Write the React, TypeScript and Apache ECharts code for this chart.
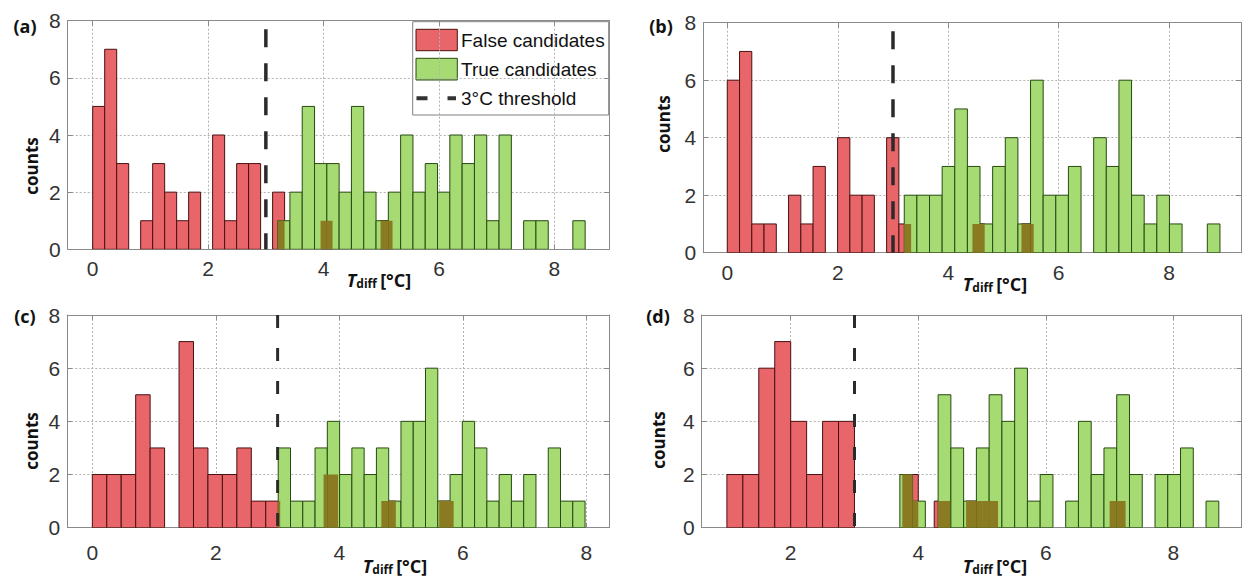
import React, { useEffect, useRef } from "react";
import * as echarts from "echarts";

// ---------- data (histogram counts per bin) ----------
// panel (a)
const redStartA = 0;
const redWidthA = 0.2078;
const redCountsA = [5, 7, 3, 0, 1, 3, 2, 1, 2, 0, 4, 1, 3, 3, 0, 2, 0, 0, 0, 1, 0, 0, 0, 0, 1];
const greenStartA = 3.204;
const greenWidthA = 0.2131;
const greenCountsA = [1, 2, 5, 3, 3, 2, 5, 2, 1, 2, 4, 2, 3, 2, 4, 3, 4, 1, 4, 0, 1, 1, 0, 0, 1];

// panel (b)
const redStartB = 0;
const redWidthB = 0.2219;
const redCountsB = [6, 7, 1, 1, 0, 2, 1, 3, 0, 4, 2, 2, 0, 4, 1, 0, 0, 0, 0, 0, 1, 0, 0, 0, 1];
const greenStartB = 3.204;
const greenWidthB = 0.2286;
const greenCountsB = [2, 2, 2, 3, 5, 3, 1, 3, 4, 1, 6, 2, 2, 3, 0, 4, 3, 6, 2, 1, 2, 1, 0, 0, 1];

// panel (c)
const redStartC = 0;
const redWidthC = 0.234;
const redCountsC = [2, 2, 2, 5, 3, 0, 7, 3, 2, 2, 3, 1, 1, 0, 0, 0, 2, 0, 0, 0, 1, 0, 0, 0, 1];
const greenStartC = 3.01;
const greenWidthC = 0.1987;
const greenCountsC = [3, 1, 1, 3, 4, 2, 3, 2, 3, 1, 4, 4, 6, 1, 2, 4, 3, 1, 2, 1, 2, 0, 3, 1, 1];

// panel (d)
const redStartD = 1.0;
const redWidthD = 0.25;
const redCountsD = [2, 2, 6, 7, 4, 2, 4, 4, 0, 0, 0, 2, 0, 1, 0, 1, 1, 0, 0, 0, 0, 0, 0, 0, 1];
const greenStartD = 3.711;
const greenWidthD = 0.2;
const greenCountsD = [2, 1, 0, 5, 3, 1, 3, 5, 4, 6, 1, 2, 0, 1, 4, 2, 3, 5, 2, 0, 2, 2, 3, 0, 1];

const threshold = 3;
const yTicks = [0, 2, 4, 6, 8];
const panelLabels = ["(a)", "(b)", "(c)", "(d)"];
const legendNames = ["False candidates", "True candidates", "3°C threshold"];

// ---------- styles ----------
const RED = "#e8666a";
const RED_STROKE = "#4a1010";
const GREEN = "#a5db72";
const GREEN_STROKE = "#274a10";
const OLIVE = "#8a7a22";
const GRID_COLOR = "#b3b3b3";
const AXIS_COLOR = "#8a8a8a";
const TICK_FONT = "Liberation Sans";
const BOLD_FONT = "Open Sans";

type Bin = [number, number, number];

function makeBins(start: number, width: number, counts: number[]): Bin[] {
  return counts
    .map((c, i) => [start + i * width, start + (i + 1) * width, c] as Bin)
    .filter((d) => d[2] > 0);
}

function overlapBins(red: Bin[], green: Bin[]): Bin[] {
  const out: Bin[] = [];
  red.forEach((r) => {
    green.forEach((g) => {
      const l = Math.max(r[0], g[0]);
      const rr = Math.min(r[1], g[1]);
      if (rr - l > 1e-6) out.push([l, rr, Math.min(r[2], g[2])]);
    });
  });
  return out;
}

const panels = [
  {
    red: makeBins(redStartA, redWidthA, redCountsA),
    green: makeBins(greenStartA, greenWidthA, greenCountsA),
    xMin: -0.433, xMax: 8.95,
    grid: { left: 67.7, top: 20.7, width: 541.6, height: 228.6 },
    thrTop: 7.7, dash: [18, 16], thrWidth: 3.5, labelMargin: 9,
    panelPos: [25, 25.5], countsPos: [31, 166], xlabelPos: [379, 280],
  },
  {
    red: makeBins(redStartB, redWidthB, redCountsB),
    green: makeBins(greenStartB, greenWidthB, greenCountsB),
    xMin: -0.434, xMax: 9.3,
    grid: { left: 703.3, top: 22.7, width: 537.7, height: 230 },
    thrTop: 7.7, dash: [18, 16], thrWidth: 3.5, labelMargin: 9,
    panelPos: [661, 25.5], countsPos: [663, 124], xlabelPos: [995, 284],
  },
  {
    red: makeBins(redStartC, redWidthC, redCountsC),
    green: makeBins(greenStartC, greenWidthC, greenCountsC),
    xMin: -0.405, xMax: 8.37,
    grid: { left: 67.3, top: 315, width: 542, height: 212.7 },
    thrTop: 8, dash: [13, 20], thrWidth: 3, labelMargin: 14,
    panelPos: [25, 316], countsPos: [31, 441], xlabelPos: [395, 566],
  },
  {
    red: makeBins(redStartD, redWidthD, redCountsD),
    green: makeBins(greenStartD, greenWidthD, greenCountsD),
    xMin: 0.605, xMax: 9.07,
    grid: { left: 701.7, top: 315, width: 540, height: 212.7 },
    thrTop: 8, dash: [13, 20], thrWidth: 3, labelMargin: 14,
    panelPos: [658, 315.5], countsPos: [658, 440], xlabelPos: [995, 566],
  },
];

const makeRender = (fill: string, stroke: string | null) => (params: any, api: any) => {
  const a = api.coord([api.value(0), 0]);
  const b = api.coord([api.value(1), api.value(2)]);
  return {
    type: "rect",
    shape: { x: a[0], y: b[1], width: b[0] - a[0], height: a[1] - b[1] },
    style: { fill, stroke: stroke || undefined, lineWidth: stroke ? 1 : 0 },
  };
};

function buildOption() {
  const grids: any[] = [];
  const xAxes: any[] = [];
  const yAxes: any[] = [];
  const series: any[] = [];
  const graphics: any[] = [];

  panels.forEach((p, i) => {
    grids.push({ ...p.grid, containLabel: false });
    xAxes.push({
      type: "value", gridIndex: i, position: "bottom", min: p.xMin, max: p.xMax, splitNumber: 5,
      axisLine: { show: true, onZero: false, lineStyle: { color: AXIS_COLOR, width: 1 } },
      axisTick: { show: true, inside: true, length: 5, lineStyle: { color: AXIS_COLOR } },
      axisLabel: {
        show: true, fontSize: 21, fontFamily: TICK_FONT, color: "#333", margin: p.labelMargin,
        showMinLabel: false, showMaxLabel: false,
        formatter: (v: number) => (Math.abs(v - Math.round(v)) < 1e-6 ? String(Math.round(v)) : ""),
      },
      splitLine: { show: true, lineStyle: { color: GRID_COLOR, type: [2, 2], width: 1 } },
    });
    xAxes.push({
      type: "value", gridIndex: i, position: "top", min: p.xMin, max: p.xMax, splitNumber: 5,
      axisLine: { show: true, onZero: false, lineStyle: { color: AXIS_COLOR, width: 1 } },
      axisTick: { show: true, inside: true, length: 5, lineStyle: { color: AXIS_COLOR } },
      axisLabel: { show: false },
      splitLine: { show: false },
    });
    yAxes.push({
      type: "value", gridIndex: i, position: "left", min: 0, max: 8, interval: 2,
      axisLine: { show: true, onZero: false, lineStyle: { color: AXIS_COLOR, width: 1 } },
      axisTick: { show: true, inside: true, length: 5, lineStyle: { color: AXIS_COLOR } },
      axisLabel: { show: true, fontSize: 21, fontFamily: TICK_FONT, color: "#333", margin: 7,
        formatter: (v: number) => (yTicks.includes(v) ? String(v) : "") },
      splitLine: { show: true, lineStyle: { color: GRID_COLOR, type: [2, 2], width: 1 } },
    });
    yAxes.push({
      type: "value", gridIndex: i, position: "right", min: 0, max: 8, interval: 2,
      axisLine: { show: true, onZero: false, lineStyle: { color: AXIS_COLOR, width: 1 } },
      axisTick: { show: true, inside: true, length: 5, lineStyle: { color: AXIS_COLOR } },
      axisLabel: { show: false },
      splitLine: { show: false },
    });

    const xi = 2 * i;
    const yi = 2 * i;
    series.push({
      type: "custom", name: legendNames[0], xAxisIndex: xi, yAxisIndex: yi, z: 3,
      renderItem: makeRender(RED, RED_STROKE), encode: { x: [0, 1], y: 2 }, data: p.red, clip: true,
    });
    series.push({
      type: "custom", name: legendNames[1], xAxisIndex: xi, yAxisIndex: yi, z: 4,
      renderItem: makeRender(GREEN, GREEN_STROKE), encode: { x: [0, 1], y: 2 }, data: p.green, clip: true,
    });
    series.push({
      type: "custom", name: "overlap", xAxisIndex: xi, yAxisIndex: yi, z: 5,
      renderItem: makeRender(OLIVE, null), encode: { x: [0, 1], y: 2 },
      data: overlapBins(p.red, p.green), clip: true,
    });
    series.push({
      type: "line", name: legendNames[2], xAxisIndex: xi, yAxisIndex: yi, z: 6,
      data: [[threshold, p.thrTop], [threshold, 0]], showSymbol: false, symbol: "none",
      lineStyle: { color: "#2b2b2b", width: p.thrWidth, type: p.dash },
    });

    graphics.push({
      type: "text", x: p.panelPos[0], y: p.panelPos[1], z: 50,
      style: { text: panelLabels[i], fontSize: 18, fontWeight: "bold", fontFamily: BOLD_FONT,
        fill: "#111", align: "center", verticalAlign: "middle" },
    });
    graphics.push({
      type: "text", x: p.countsPos[0], y: p.countsPos[1], rotation: Math.PI / 2, z: 50,
      style: { text: "counts", fontSize: 17, fontWeight: "bold", fontFamily: BOLD_FONT,
        fill: "#111", align: "center", verticalAlign: "middle" },
    });
    graphics.push({
      type: "text", x: p.xlabelPos[0], y: p.xlabelPos[1], z: 50,
      style: {
        text: "{t|T}{s|diff} {u|[°C]}", align: "center", verticalAlign: "middle", fill: "#111",
        rich: {
          t: { fontSize: 18, fontWeight: "bold", fontStyle: "italic", fontFamily: BOLD_FONT, fill: "#111" },
          s: { fontSize: 12, fontWeight: "bold", fontFamily: BOLD_FONT, fill: "#111", padding: [7, 0, 0, 0] },
          u: { fontSize: 18, fontWeight: "bold", fontFamily: BOLD_FONT, fill: "#111" },
        },
      },
    });
  });

  // legend box in panel (a)
  graphics.push({
    type: "group", z: 100,
    children: [
      { type: "rect", shape: { x: 412.7, y: 21.7, width: 196, height: 93.3 },
        style: { fill: "#fff", stroke: "#808080", lineWidth: 1 } },
      { type: "rect", shape: { x: 416, y: 29.3, width: 41.3, height: 21.4 },
        style: { fill: RED, stroke: RED_STROKE, lineWidth: 1 } },
      { type: "text", x: 461, y: 40.5,
        style: { text: legendNames[0], fontSize: 19, fontFamily: TICK_FONT, fill: "#111", verticalAlign: "middle" } },
      { type: "rect", shape: { x: 416, y: 58.3, width: 41.3, height: 21.7 },
        style: { fill: GREEN, stroke: GREEN_STROKE, lineWidth: 1 } },
      { type: "text", x: 461, y: 69.5,
        style: { text: legendNames[1], fontSize: 19, fontFamily: TICK_FONT, fill: "#111", verticalAlign: "middle" } },
      { type: "line", shape: { x1: 416.5, y1: 98.3, x2: 456, y2: 98.3 },
        style: { stroke: "#333", lineWidth: 4, lineDash: [11, 20] } },
      { type: "text", x: 461, y: 98.5,
        style: { text: legendNames[2], fontSize: 19, fontFamily: TICK_FONT, fill: "#111", verticalAlign: "middle" } },
    ],
  });

  return {
    animation: false,
    backgroundColor: "#ffffff",
    grid: grids,
    xAxis: xAxes,
    yAxis: yAxes,
    series,
    graphic: graphics,
  };
}

export default function App() {
  const ref = useRef<HTMLDivElement>(null);
  useEffect(() => {
    if (!ref.current) return;
    const chart = echarts.init(ref.current, undefined, { renderer: "svg" });
    chart.setOption(buildOption() as any);
    return () => chart.dispose();
  }, []);
  return (
    <div
      ref={ref}
      style={{ position: "fixed", left: 0, top: 0, width: 1244, height: 582, background: "#fff" }}
    />
  );
}
